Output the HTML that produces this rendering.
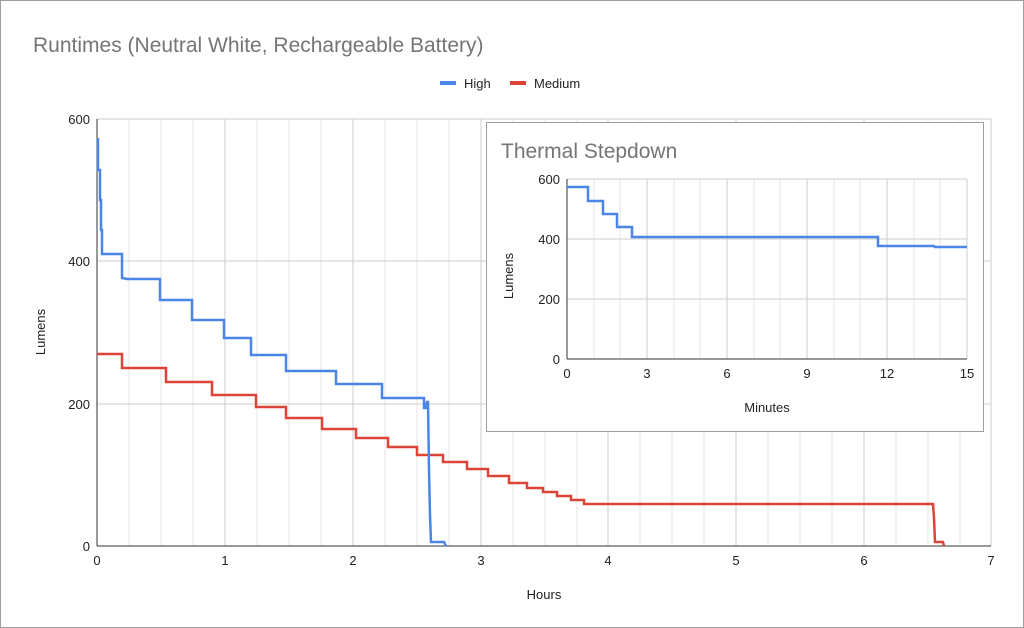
<!DOCTYPE html>
<html><head><meta charset="utf-8"><style>
html,body{margin:0;padding:0;background:#fff}
svg{display:block}
text{font-family:"Liberation Sans",Arial,sans-serif}
</style></head><body>
<svg width="1024" height="628" viewBox="0 0 1024 628" xmlns="http://www.w3.org/2000/svg">
<rect x="0.5" y="0.5" width="1023" height="627" fill="#fff" stroke="#9e9e9e"/>
<text x="33" y="52" font-size="21" fill="#757575">Runtimes (Neutral White, Rechargeable Battery)</text>
<rect x="440" y="81" width="16" height="4" fill="#4a86e8"/>
<text x="464" y="88" font-size="13" fill="#222">High</text>
<rect x="510" y="81" width="16" height="4" fill="#db4437"/>
<text x="534" y="88" font-size="13" fill="#222">Medium</text>
<g stroke="#e6e6e6" stroke-width="1">
<line x1="129" y1="119" x2="129" y2="546"/><line x1="161" y1="119" x2="161" y2="546"/><line x1="193" y1="119" x2="193" y2="546"/>
<line x1="257" y1="119" x2="257" y2="546"/><line x1="289" y1="119" x2="289" y2="546"/><line x1="321" y1="119" x2="321" y2="546"/>
<line x1="385" y1="119" x2="385" y2="546"/><line x1="417" y1="119" x2="417" y2="546"/><line x1="449" y1="119" x2="449" y2="546"/>
<line x1="513" y1="119" x2="513" y2="546"/><line x1="545" y1="119" x2="545" y2="546"/><line x1="577" y1="119" x2="577" y2="546"/>
<line x1="640" y1="119" x2="640" y2="546"/><line x1="672" y1="119" x2="672" y2="546"/><line x1="704" y1="119" x2="704" y2="546"/>
<line x1="768" y1="119" x2="768" y2="546"/><line x1="800" y1="119" x2="800" y2="546"/><line x1="832" y1="119" x2="832" y2="546"/>
<line x1="896" y1="119" x2="896" y2="546"/><line x1="928" y1="119" x2="928" y2="546"/><line x1="960" y1="119" x2="960" y2="546"/>
</g>
<g stroke="#cccccc" stroke-width="1">
<line x1="225" y1="119" x2="225" y2="546"/><line x1="353" y1="119" x2="353" y2="546"/><line x1="481" y1="119" x2="481" y2="546"/>
<line x1="608" y1="119" x2="608" y2="546"/><line x1="736" y1="119" x2="736" y2="546"/><line x1="864" y1="119" x2="864" y2="546"/><line x1="991" y1="119" x2="991" y2="546"/>
<line x1="97" y1="119" x2="991" y2="119"/><line x1="97" y1="261" x2="991" y2="261"/><line x1="97" y1="404" x2="991" y2="404"/>
</g>
<line x1="97" y1="119" x2="97" y2="546" stroke="#333" stroke-width="1"/>
<line x1="97" y1="546" x2="991" y2="546" stroke="#333" stroke-width="1"/>
<g font-size="13" fill="#222" text-anchor="end">
<text x="90" y="124">600</text><text x="90" y="266">400</text><text x="90" y="409">200</text><text x="90" y="551">0</text>
</g>
<g font-size="13" fill="#222" text-anchor="middle">
<text x="97" y="565">0</text><text x="225" y="565">1</text><text x="353" y="565">2</text><text x="481" y="565">3</text><text x="608" y="565">4</text><text x="736" y="565">5</text><text x="864" y="565">6</text><text x="991" y="565">7</text>
<text x="544" y="599">Hours</text>
</g>
<text transform="translate(45,332) rotate(-90)" font-size="13" fill="#222" text-anchor="middle">Lumens</text>
<polyline fill="none" stroke="#db4437" stroke-width="2.5" points="97,354 122,354 122,368 166,368 166,382 212,382 212,395 256,395 256,407 286,407 286,418 322,418 322,429 356,429 356,438 388,438 388,447 417,447 417,455 443,455 443,462 467,462 467,469 488,469 488,476 509,476 509,483 527,483 527,488 543,488 543,492 557,492 557,496 571,496 571,500 584,500 584,504 933,504 934,518 935,542 943,542 944,546"/>
<polyline fill="none" stroke="#4a86e8" stroke-width="2.5" points="98,138 98,170 100,170 100,200 101,200 101,230 102,230 102,254 122,254 122,278 127,279 160,279 160,300 192,300 192,320 224,320 224,338 251,338 251,355 286,355 286,371 336,371 336,384 382,384 382,398 424,398 424,408 426,408 427,402 428,402 429,470 430,515 431,542 444,542 446,546"/>
<rect x="486.5" y="122.5" width="497" height="309" fill="#fff" stroke="#9e9e9e"/>
<text x="501" y="158" font-size="21" fill="#757575">Thermal Stepdown</text>
<g stroke="#e6e6e6">
<line x1="594" y1="179" x2="594" y2="359"/><line x1="620" y1="179" x2="620" y2="359"/><line x1="674" y1="179" x2="674" y2="359"/><line x1="700" y1="179" x2="700" y2="359"/>
<line x1="754" y1="179" x2="754" y2="359"/><line x1="780" y1="179" x2="780" y2="359"/><line x1="834" y1="179" x2="834" y2="359"/><line x1="860" y1="179" x2="860" y2="359"/>
<line x1="914" y1="179" x2="914" y2="359"/><line x1="940" y1="179" x2="940" y2="359"/>
</g>
<g stroke="#cccccc">
<line x1="647" y1="179" x2="647" y2="359"/><line x1="727" y1="179" x2="727" y2="359"/><line x1="807" y1="179" x2="807" y2="359"/><line x1="887" y1="179" x2="887" y2="359"/><line x1="967" y1="179" x2="967" y2="359"/>
<line x1="567" y1="179" x2="967" y2="179"/><line x1="567" y1="239" x2="967" y2="239"/><line x1="567" y1="299" x2="967" y2="299"/>
</g>
<line x1="567" y1="179" x2="567" y2="359" stroke="#333"/>
<line x1="567" y1="359" x2="967" y2="359" stroke="#333"/>
<g font-size="13" fill="#222" text-anchor="end">
<text x="560" y="184">600</text><text x="560" y="244">400</text><text x="560" y="304">200</text><text x="560" y="364">0</text>
</g>
<g font-size="13" fill="#222" text-anchor="middle">
<text x="567" y="378">0</text><text x="647" y="378">3</text><text x="727" y="378">6</text><text x="807" y="378">9</text><text x="887" y="378">12</text><text x="967" y="378">15</text>
<text x="767" y="412">Minutes</text>
</g>
<text transform="translate(513,276) rotate(-90)" font-size="13" fill="#222" text-anchor="middle">Lumens</text>
<polyline fill="none" stroke="#4a86e8" stroke-width="2.5" points="567,187 588,187 588,201 603,201 603,214 617,214 617,227 632,227 632,237 878,237 878,246 934,246 935,247 967,247"/>
</svg>
</body></html>
